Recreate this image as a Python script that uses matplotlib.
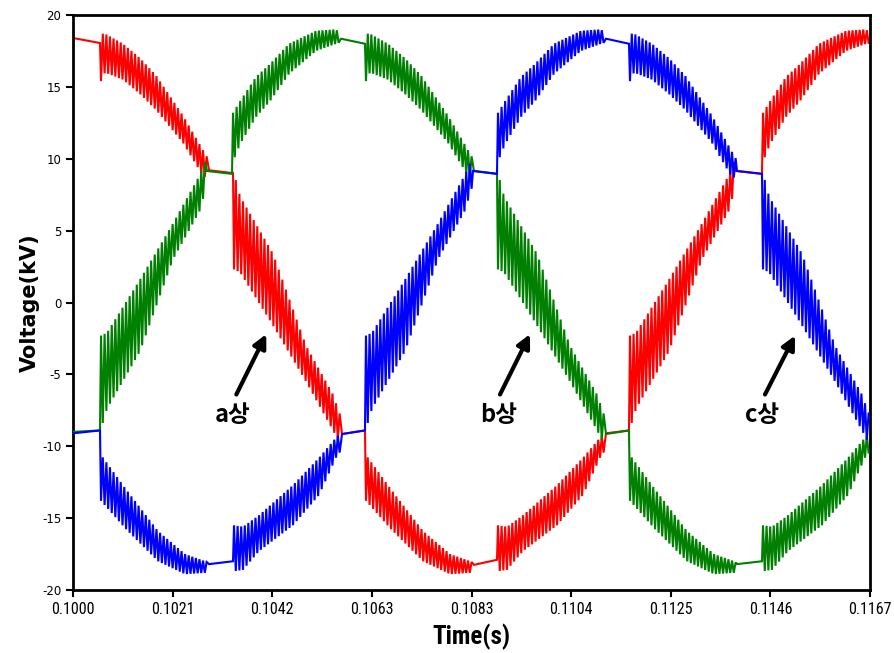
import numpy as np
import matplotlib
matplotlib.use("Agg")
import matplotlib.pyplot as plt
from matplotlib import font_manager

# ---------------- data ----------------
# knot times (s); hi == lo -> flat part, hi != lo -> PWM ripple band
red_t = [0.100000, 0.100566,
         0.100587, 0.100671, 0.101048, 0.101404, 0.101739, 0.102305, 0.102724, 0.102829,
         0.102850, 0.103353,
         0.103374, 0.103499, 0.104191, 0.104882, 0.105448, 0.105616,
         0.105637, 0.106118,
         0.106139, 0.106642, 0.107334, 0.107899, 0.108319, 0.108381,
         0.108402, 0.108884,
         0.108905, 0.109094, 0.109429, 0.110142, 0.110686, 0.111043, 0.111147,
         0.111168, 0.111650,
         0.111671, 0.111797, 0.112488, 0.113180, 0.113746, 0.113871,
         0.113892, 0.114437,
         0.114458, 0.114605, 0.114940, 0.115233, 0.115631, 0.116197, 0.116616, 0.116700]
red_hi = [18.4, 18.05,
          18.7, 18.7, 18.0, 17.0, 15.8, 13.0, 10.6, 10.0,
          9.2, 9.0,
          9.0, 7.4, 3.4, -3.0, -6.4, -8.0,
          -9.15, -8.9,
          -10.6, -12.9, -15.9, -17.5, -18.0, -18.1,
          -18.25, -17.9,
          -15.5, -15.6, -14.8, -12.7, -10.8, -9.4, -9.0,
          -9.1, -8.9,
          -2.3, -2.1, 1.6, 5.5, 8.9, 10.0,
          9.15, 8.95,
          13.2, 14.0, 15.7, 16.6, 18.0, 18.9, 19.0, 18.7]
red_lo = [18.4, 18.05,
          15.4, 16.0, 15.5, 14.5, 13.4, 11.1, 8.8, 8.6,
          9.2, 9.0,
          2.3, 2.1, -1.6, -5.5, -8.9, -10.0,
          -9.15, -8.9,
          -13.8, -15.7, -18.0, -18.9, -18.8, -18.6,
          -18.25, -17.9,
          -18.7, -18.6, -17.3, -15.5, -13.4, -10.8, -10.3,
          -9.1, -8.9,
          -8.8, -7.4, -3.4, 3.0, 6.4, 8.0,
          9.15, 8.95,
          9.8, 11.0, 12.9, 14.0, 15.9, 17.5, 18.0, 18.1]

green_t = [0.100000, 0.100566,
           0.100587, 0.100712, 0.101404, 0.102095, 0.102661, 0.102787,
           0.102808, 0.103332,
           0.103353, 0.103499, 0.103835, 0.104128, 0.104526, 0.105092, 0.105511, 0.105595,
           0.105616, 0.106118,
           0.106139, 0.106223, 0.106600, 0.106957, 0.107292, 0.107858, 0.108277, 0.108381,
           0.108402, 0.108884,
           0.108905, 0.109031, 0.109722, 0.110414, 0.110980, 0.111147,
           0.111168, 0.111650,
           0.111671, 0.112174, 0.112866, 0.113431, 0.113850, 0.113892,
           0.113913, 0.114437,
           0.114458, 0.114647, 0.114982, 0.115694, 0.116239, 0.116595, 0.116700]
green_hi = [-9.0, -8.9,
            -2.3, -2.1, 1.6, 5.5, 8.9, 10.0,
            9.15, 8.95,
            13.2, 14.0, 15.7, 16.6, 18.0, 18.9, 19.0, 18.7,
            18.35, 18.0,
            18.7, 18.7, 18.0, 17.0, 15.8, 13.0, 10.6, 10.0,
            9.15, 8.95,
            9.0, 7.4, 3.4, -3.0, -6.4, -8.0,
            -9.15, -8.9,
            -10.6, -12.9, -15.9, -17.5, -18.0, -18.1,
            -18.2, -18.0,
            -15.5, -15.6, -14.8, -12.7, -10.8, -9.4, -9.0]
green_lo = [-9.0, -8.9,
            -8.8, -7.4, -3.4, 3.0, 6.4, 8.0,
            9.15, 8.95,
            9.8, 11.0, 12.9, 14.0, 15.9, 17.5, 18.0, 18.1,
            18.35, 18.0,
            15.4, 16.0, 15.5, 14.5, 13.4, 11.1, 8.8, 8.6,
            9.15, 8.95,
            2.3, 2.1, -1.6, -5.5, -8.9, -10.0,
            -9.15, -8.9,
            -13.8, -15.7, -18.0, -18.9, -18.8, -18.6,
            -18.2, -18.0,
            -18.7, -18.6, -17.3, -15.5, -13.4, -10.8, -10.3]

blue_t = [0.100000, 0.100566,
          0.100587, 0.101090, 0.101781, 0.102347, 0.102766, 0.102829,
          0.102850, 0.103353,
          0.103374, 0.103562, 0.103897, 0.104610, 0.105155, 0.105511, 0.105616,
          0.105637, 0.106118,
          0.106139, 0.106265, 0.106957, 0.107648, 0.108214, 0.108360,
          0.108381, 0.108884,
          0.108905, 0.109052, 0.109387, 0.109681, 0.110079, 0.110644, 0.111064, 0.111147,
          0.111168, 0.111650,
          0.111671, 0.111755, 0.112132, 0.112488, 0.112824, 0.113389, 0.113788, 0.113892,
          0.113913, 0.114437,
          0.114458, 0.114584, 0.115275, 0.115967, 0.116532, 0.116700]
blue_hi = [-9.1, -8.9,
           -10.6, -12.9, -15.9, -17.5, -18.0, -18.1,
           -18.2, -18.0,
           -15.5, -15.6, -14.8, -12.7, -10.8, -9.4, -9.0,
           -9.15, -8.9,
           -2.3, -2.1, 1.6, 5.5, 8.9, 10.0,
           9.15, 8.95,
           13.2, 14.0, 15.7, 16.6, 18.0, 18.9, 19.0, 18.7,
           18.35, 18.0,
           18.7, 18.7, 18.0, 17.0, 15.8, 13.0, 10.6, 10.0,
           9.15, 8.95,
           9.0, 7.4, 3.4, -3.0, -6.4, -8.0]
blue_lo = [-9.1, -8.9,
           -13.8, -15.7, -18.0, -18.9, -18.8, -18.6,
           -18.2, -18.0,
           -18.7, -18.6, -17.3, -15.5, -13.4, -10.8, -10.3,
           -9.15, -8.9,
           -8.8, -7.4, -3.4, 3.0, 6.4, 8.0,
           9.15, 8.95,
           9.8, 11.0, 12.9, 14.0, 15.9, 17.5, 18.0, 18.1,
           18.35, 18.0,
           15.4, 16.0, 15.5, 14.5, 13.4, 11.1, 8.8, 8.6,
           9.15, 8.95,
           2.3, 2.1, -1.6, -5.5, -8.9, -10.0]

x_tick_labels = ["0.1000", "0.1021", "0.1042", "0.1063", "0.1083",
                 "0.1104", "0.1125", "0.1146", "0.1167"]
y_ticks = [-20, -15, -10, -5, 0, 5, 10, 15, 20]
y_tick_labels = ["-20", "-15", "-10", "-5", "0", "5", "10", "15", "20"]

phase_labels = ["a상", "b상", "c상"]
label_t = [0.103338, 0.108912, 0.114431]
label_v = [-7.85, -7.85, -7.85]
arrow_tail_t = [0.103422, 0.108947, 0.114500]
arrow_tail_v = [-6.4, -6.4, -6.4]
arrow_head_t = [0.104050, 0.109576, 0.115129]
arrow_head_v = [-2.2, -2.2, -2.3]

SW_PERIOD = 0.075e-3  # PWM ripple period (s)


def build_wave(t, hi, lo, period=SW_PERIOD):
    t = np.asarray(t, float)
    hi = np.asarray(hi, float)
    lo = np.asarray(lo, float)
    ripple = np.abs(hi - lo) > 1e-9
    xs, ys = [], []
    i, n = 0, len(t)
    while i < n:
        if not ripple[i]:
            xs.append(t[i]); ys.append(hi[i]); i += 1
            continue
        j = i
        while j + 1 < n and ripple[j + 1]:
            j += 1
        st, sh, sl = t[i:j + 1], hi[i:j + 1], lo[i:j + 1]
        tt = np.arange(st[0], st[-1] + 1e-12, period / 2)
        h = np.interp(tt, st, sh)
        l = np.interp(tt, st, sl)
        prev = ys[-1] if ys else 0.5 * (sh[0] + sl[0])
        start_hi = abs(sh[0] - prev) > abs(sl[0] - prev)
        for k, tk in enumerate(tt):
            use_hi = ((k % 2) == 0) == start_hi
            xs.append(tk); ys.append(h[k] if use_hi else l[k])
        i = j + 1
    return np.array(xs), np.array(ys)


# ---------------- fonts ----------------
entries = font_manager.fontManager.ttflist
names = {f.name for f in entries}
narrow_family = None
narrow_stretch = "normal"
for cand in ["Liberation Sans Narrow", "Arial Narrow", "Roboto Condensed",
             "Open Sans Condensed", "DejaVu Sans Condensed"]:
    if cand in names:
        narrow_family = cand
        break
if narrow_family is None:
    for f in entries:
        st = str(f.stretch)
        if f.name in ("DejaVu Sans", "Noto Sans", "Open Sans", "Roboto", "Liberation Sans") \
                and "condensed" in st:
            narrow_family = f.name
            narrow_stretch = "condensed"
            break
if narrow_family is None:
    narrow_family = "Liberation Sans" if "Liberation Sans" in names else "DejaVu Sans"
    tick_fs, xlabel_fs = 9.5, 16
else:
    tick_fs, xlabel_fs = 11.5, 18

plt.rcParams["font.family"] = ["DejaVu Sans"]

# ---------------- figure ----------------
fig = plt.figure(figsize=(8.94, 6.53), dpi=100)
ax = fig.add_axes([73 / 894, 1 - 590 / 653, (870 - 73) / 894, (590 - 15) / 653])

for (tt, hh, ll, col, z) in [(red_t, red_hi, red_lo, "#ff0000", 2),
                             (green_t, green_hi, green_lo, "#008000", 3),
                             (blue_t, blue_hi, blue_lo, "#0000ff", 4)]:
    x, y = build_wave(tt, hh, ll)
    ax.plot(x, y, color=col, lw=1.5, zorder=z, solid_joinstyle="miter")

ax.set_xlim(0.1, 0.1167)
ax.set_ylim(-20, 20)
ax.set_xticks(np.linspace(0.1, 0.1167, len(x_tick_labels)))
ax.set_xticklabels(x_tick_labels, fontfamily=narrow_family, fontstretch=narrow_stretch,
                   fontsize=tick_fs)
ax.set_yticks(y_ticks)
ax.set_yticklabels(y_tick_labels, fontsize=8.5)
ax.tick_params(direction="out", length=5, width=1.5, colors="black")
for s in ax.spines.values():
    s.set_linewidth(2.0)
    s.set_color("black")

ax.set_xlabel("Time(s)", fontfamily=narrow_family, fontstretch=narrow_stretch,
              fontweight="bold", fontsize=xlabel_fs, labelpad=5)
ax.set_ylabel("Voltage(kV)", fontfamily="DejaVu Sans", fontstretch="normal",
              fontweight="bold", fontsize=15, labelpad=1.5)

for lab, tx, ty, t0, v0, t1, v1 in zip(phase_labels, label_t, label_v,
                                      arrow_tail_t, arrow_tail_v,
                                      arrow_head_t, arrow_head_v):
    ax.annotate("", xy=(t1, v1), xytext=(t0, v0),
                arrowprops=dict(arrowstyle="-|>", color="black", lw=3,
                                mutation_scale=20, shrinkA=0, shrinkB=0),
                zorder=6)
    ax.text(tx, ty, lab, ha="center", va="center", fontsize=17, fontweight="bold",
            family=["Noto Sans CJK KR", "DejaVu Sans"], zorder=6)

fig.savefig("out.png", dpi=100, facecolor="white")
